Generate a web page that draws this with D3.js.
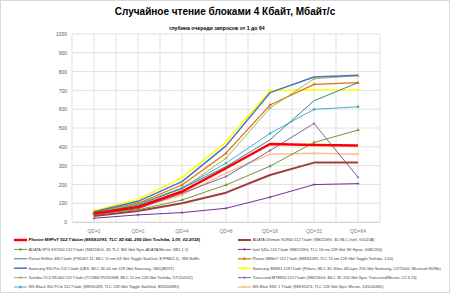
<!DOCTYPE html>
<html><head><meta charset="utf-8">
<script src="https://cdn.jsdelivr.net/npm/d3@7"></script>
<style>html,body{margin:0;padding:0;background:#fff;}svg{display:block;font-family:"Liberation Sans",Arial,sans-serif;}</style>
</head><body>
<svg id="c" width="450" height="293"></svg>
<script>
const categories = ["QD=1","QD=2","QD=4","QD=8","QD=16","QD=32","QD=64"];
const yTicks = [0,100,200,300,400,500,600,700,800,900,1000];

const seriesNames = [
  "Plextor M9PeY 512 Гбайт (88SS1093,  TLC 3D 64L 256 Gbit Toshiba, 1.00, 02.2018)",
  "ADATA XPG SX7000 512 Гбайт (SM2260G, 3D TLC 384 Gbit Sync ADATA/Micron, SB1.1.1)",
  "Patriot Hellfire 480 Гбайт (PS5007-11, MLC 15 nm 64 Gbit Toggle SanDisk, E7FM02.1) - MS NvMe",
  "Samsung 950 Pro 512 Гбайт (UBX,  MLC 3D 40 nm 128 Gbit Samsung, 1B0QBXX7)",
  "Toshiba OCZ RD400 512 Гбайт (TC58NCP070GSB,  MLC 15 nm 128 Gbit Toshiba, 57CD4102)",
  "WD Black 350 PCIe 512 Гбайт (88SS1093, TLC 128 Gbit Toggle SanDisk, B35500WD)",
  "ADATA Ultimate SU900 512 Гбайт (SM2258G,  3D MLC Intel, G1025A)",
  "Intel 545s 120 Гбайт (SM2258G, TLC 16 nm 128 Gbit SK Hynix, U0B2200)",
  "Plextor M8SeY 512 Гбайт (88SS1093, TLC 15 nm 128 Gbit Toggle Toshiba, 1.00)",
  "Samsung SM961 128 Гбайт (Polaris, MLC 3D 3Gen 48-layer 256 Gbit Samsung, CXT5000, Microsoft NVMe)",
  "Transcend MTE850 512 Гбайт (SM2260G,  MLC 3D 256 Gbit Sync Transcend/Micron, C2.3.13)",
  "WD Blue SSD 1 Тбайт (88SS1074, TLC 128 Gbit Sync Micron, X41000WD)"
];

const plextorM9PeY = [45, 80, 162, 286, 415, 410, 407];
const adataXPG     = [42, 65, 117, 197, 297, 423, 489];
const patriot      = [45, 90, 179, 295, 437, 645, 741];
const samsung950   = [55, 110, 215, 405, 688, 771, 780];
const toshibaRD400 = [48, 95, 176, 339, 606, 762, 778];
const wdBlack      = [48, 95, 182, 313, 471, 599, 613];
const adataSU900   = [32, 58, 100, 156, 250, 316, 316];
const intel545s    = [20, 38, 50, 73, 132, 199, 204];
const plextorM8Se  = [50, 100, 197, 366, 622, 732, 741];
const samsungSM961 = [60, 120, 236, 425, 700, 702, 702];
const transcend    = [40, 70, 153, 242, 380, 524, 238];
const wdBlue       = [35, 75, 144, 260, 361, 366, 361];

const seriesValues = [plextorM9PeY, adataXPG, patriot, samsung950, toshibaRD400, wdBlack,
                      adataSU900, intel545s, plextorM8Se, samsungSM961, transcend, wdBlue];
const colors = ["#FF0000","#77933C","#31859C","#4472C4","#9BBB59","#4BACC6",
                "#A0403C","#7030A0","#E46C0A","#FFFF00","#8064A2","#FAC090"];
const widths = [2.5,1,1,1.5,1,1,2,1,1.2,1.5,1,1.5];
const markers = [null,"triangle",null,null,"triangle","square",null,"cross","triangle","square","cross","triangle"];

const svg = d3.select("#c");
svg.append("rect").attr("x",0.5).attr("y",0.5).attr("width",449).attr("height",292)
  .attr("fill","#fff").attr("stroke","#D9D9D9");

const L=72, R=380, T=34, B=222;
const x = d3.scaleBand().domain(categories).range([L,R]).padding(0);
const y = d3.scaleLinear().domain([0,1000]).range([B,T]);

// vertical gridlines at band edges and centers
const vx = [];
categories.forEach(c=>{ vx.push(x(c)); vx.push(x(c)+x.bandwidth()/2); });
vx.push(R);
svg.append("g").selectAll("line").data(vx).join("line")
  .attr("x1",d=>d).attr("x2",d=>d).attr("y1",T).attr("y2",B)
  .attr("stroke","#D9D9D9").attr("stroke-width",0.8);
svg.append("g").selectAll("line").data(yTicks).join("line")
  .attr("x1",L).attr("x2",R).attr("y1",d=>y(d)).attr("y2",d=>y(d))
  .attr("stroke","#D9D9D9").attr("stroke-width",0.8);

// axes
const ya = d3.axisLeft(y).tickValues(yTicks).tickFormat(d3.format("d")).tickSize(0).tickPadding(5);
const gy = svg.append("g").attr("transform",`translate(${L},0)`).call(ya);
gy.select(".domain").remove();
gy.selectAll("text").attr("font-size",5).attr("fill","#595959").attr("font-family","Liberation Sans");

const xa = d3.axisBottom(x).tickSize(0).tickPadding(7);
const gx = svg.append("g").attr("transform",`translate(0,${B})`).call(xa);
gx.select(".domain").attr("stroke","#D9D9D9");
gx.selectAll("text").attr("font-size",5).attr("fill","#7F7F7F").attr("font-family","Liberation Sans");

// lines
const line = d3.line().x((d,i)=>x(categories[i])+x.bandwidth()/2).y(d=>y(d));
const order = [11,10,9,8,7,6,5,4,3,2,1,0];
function drawMarker(g, type, cx, cy, color){
  if(type==="triangle"){
    g.append("path").attr("d",d3.symbol().type(d3.symbolTriangle).size(5)()).attr("transform",`translate(${cx},${cy})`).attr("fill",color);
  } else if(type==="square"){
    g.append("rect").attr("x",cx-1.2).attr("y",cy-1.2).attr("width",2.4).attr("height",2.4).attr("fill",color);
  } else if(type==="cross"){
    g.append("path").attr("d",`M${cx-1.3},${cy}H${cx+1.3}M${cx},${cy-1.3}V${cy+1.3}`).attr("stroke",color).attr("stroke-width",0.7);
  }
}
order.forEach(k=>{
  const g = svg.append("g");
  g.append("path").datum(seriesValues[k]).attr("d",line).attr("fill","none")
    .attr("stroke",colors[k]).attr("stroke-width",widths[k]).attr("stroke-linejoin","round");
  if(markers[k]) seriesValues[k].forEach((v,i)=>drawMarker(g,markers[k],x(categories[i])+x.bandwidth()/2,y(v),colors[k]));
});

// titles
svg.append("text").attr("x",225).attr("y",15).attr("text-anchor","middle")
  .attr("font-size",10).attr("font-weight","bold").attr("fill","#000")
  .text("Случайное чтение блоками 4 Кбайт, Мбайт/с");
svg.append("text").attr("x",217).attr("y",30).attr("text-anchor","middle")
  .attr("font-size",5.2).attr("font-weight","bold").attr("fill","#000")
  .text("глубина очереди запросов от 1 до 64");

// legend
const rowY = i => 240 + i*9.4;
seriesNames.forEach((name,k)=>{
  const col = k<6?0:1, row = k%6;
  const x0 = col===0?14:238, x1 = col===0?27:251;
  const g = svg.append("g");
  g.append("line").attr("x1",x0).attr("x2",x1).attr("y1",rowY(row)).attr("y2",rowY(row))
    .attr("stroke",colors[k]).attr("stroke-width",widths[k]);
  if(markers[k]) drawMarker(g,markers[k],(x0+x1)/2,rowY(row),colors[k]);
  const t = g.append("text").attr("x",x1+1.5).attr("y",rowY(row)+1.4)
    .attr("font-size",k===0?4.4:3.9).attr("fill","#404040").text(name);
  if(k===0) t.attr("font-weight","bold").attr("font-style","italic").attr("fill","#000");
});
</script>
</body></html>
